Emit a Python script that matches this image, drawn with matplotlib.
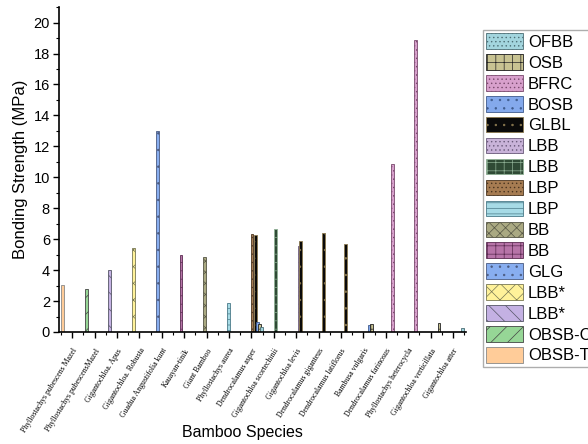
import matplotlib
matplotlib.use("Agg")
import matplotlib.pyplot as plt
import matplotlib.transforms as mtransforms
from matplotlib.patches import Patch
from matplotlib.ticker import MultipleLocator

species = [
    "Phyllostachys pubescens Mazel",
    "Phyllostachys pubescensMazel",
    "Gigantochloa. Apus",
    "Gigantochloa. Robusta",
    "Guadua Angustifolia kunt",
    "Kauayan-tinik",
    "Giant Bamboo",
    "Phyllostachys aurea",
    "Dendrocalamus asper",
    "Gigantochloa scortechinii",
    "Gigantochloa levis",
    "Dendrocalamus giganteus",
    "Dendrocalamus latiflorus",
    "Bambusa vulgaris",
    "Dendrocalamus farinosus",
    "Phyllostachys heterocycla",
    "Gigantochloa verticillata",
    "Gigantochloa atter",
]

# product types, in legend order
products = ["OFBB", "OSB", "BFRC", "BOSB", "GLBL", "LBB", "LBB", "LBP",
            "LBP", "BB", "BB", "GLG", "LBB*", "LBB*", "OBSB-C", "OBSB-T"]

face_colors = ["#a3d5de", "#c8c392", "#d8a0cc", "#84a9ec", "#0a0a0a",
               "#c9b3d9", "#2f4a35", "#a67c52", "#a7dbe6", "#aaa982",
               "#b774a8", "#88aef0", "#fff29a", "#c4b1e3", "#96d696",
               "#ffcc99"]
edge_colors = ["#4d6f76", "#222222", "#7a4a6e", "#3e5a8c", "#8c7a50",
               "#6a5a7a", "#8fb095", "#4a3520", "#4a7a88", "#555544",
               "#5a2a50", "#4a5a80", "#777755", "#555566", "#444444",
               "#888888"]
hatches = ["....", "++", "....", "..", "..", "....", "++", "....",
           "---", "xxx", "++", "..", "xx", "\\\\", "//", ""]

# one entry per bar: product index, species index, strength (MPa)
bar_product = [15, 14, 13, 12, 11, 10, 9, 8, 7, 4, 3, 1, 0,
               6, 5, 4, 4, 4, 3, 1, 2, 2, 1, 0]
bar_species = [0, 1, 2, 3, 4, 5, 6, 7, 8, 8, 8, 8, 8,
               9, 10, 10, 11, 12, 13, 13, 14, 15, 16, 17]
bar_strength = [3.05, 2.8, 4.0, 5.45, 13.0, 5.0, 4.85, 1.85, 6.35, 6.28,
                0.62, 0.5, 0.3, 6.67, 5.57, 5.87, 6.39, 5.7, 0.48, 0.5,
                10.87, 18.9, 0.6, 0.24]

plt.rcParams["hatch.linewidth"] = 0.5

fig = plt.figure(figsize=(5.88, 4.44), dpi=100)
ax = fig.add_axes([0.1003, 0.2523, 0.6922, 0.7317])

step = 0.0577
width = 0.13
for prod, sp, val in zip(bar_product, bar_species, bar_strength):
    slot = 15 - prod
    ax.bar(sp + (slot - 7.5) * step, val, width=width,
           color=face_colors[prod], edgecolor=edge_colors[prod],
           hatch=hatches[prod], linewidth=0.6)

ax.set_xlim(-0.59, 17.58)
ax.set_ylim(0, 21)
ax.yaxis.set_major_locator(MultipleLocator(2))
ax.yaxis.set_minor_locator(MultipleLocator(1))
ax.set_xticks(range(len(species)))
ax.xaxis.set_minor_locator(MultipleLocator(0.5))
ax.set_xticklabels(species, rotation=58, ha="right", va="top",
                   rotation_mode="anchor", fontsize=5.6,
                   family="Liberation Serif")
shift = mtransforms.ScaledTranslation(5 / 100, 0, fig.dpi_scale_trans)
for lbl in ax.get_xticklabels():
    lbl.set_transform(lbl.get_transform() + shift)

ax.tick_params(axis="both", which="major", direction="out", length=4.3,
               width=1, pad=2.2)
ax.tick_params(axis="x", which="major", pad=6.5)
ax.tick_params(axis="both", which="minor", direction="out", length=2.5,
               width=0.8)
ax.tick_params(axis="y", labelsize=10.5)
for side in ["top", "right"]:
    ax.spines[side].set_visible(False)
for side in ["left", "bottom"]:
    ax.spines[side].set_linewidth(1.2)

ax.set_ylabel("Bonding Strength (MPa)", fontsize=12, family="Liberation Sans")
for lbl in ax.get_yticklabels():
    lbl.set_family("Liberation Sans")
fig.text(242 / 588, 1 - 432 / 444, "Bamboo Species", ha="center",
         va="center", fontsize=11.5, family="Liberation Sans")

handles = [
    Patch(facecolor=face_colors[i], edgecolor=edge_colors[i],
          hatch=hatches[i], linewidth=0.6, label=products[i])
    for i in range(len(products))
]
leg = fig.legend(handles=handles, loc="upper left",
                 bbox_to_anchor=(483 / 588, 1 - 30 / 444),
                 prop={"family": "Liberation Sans", "size": 12},
                 frameon=True, fancybox=False, borderaxespad=0,
                 borderpad=0.2, handlelength=2.2, handleheight=1.05,
                 handletextpad=0.3, labelspacing=0.27)
leg.get_frame().set_edgecolor("#999999")
leg.get_frame().set_linewidth(1.0)

fig.savefig("out.png", dpi=100)
